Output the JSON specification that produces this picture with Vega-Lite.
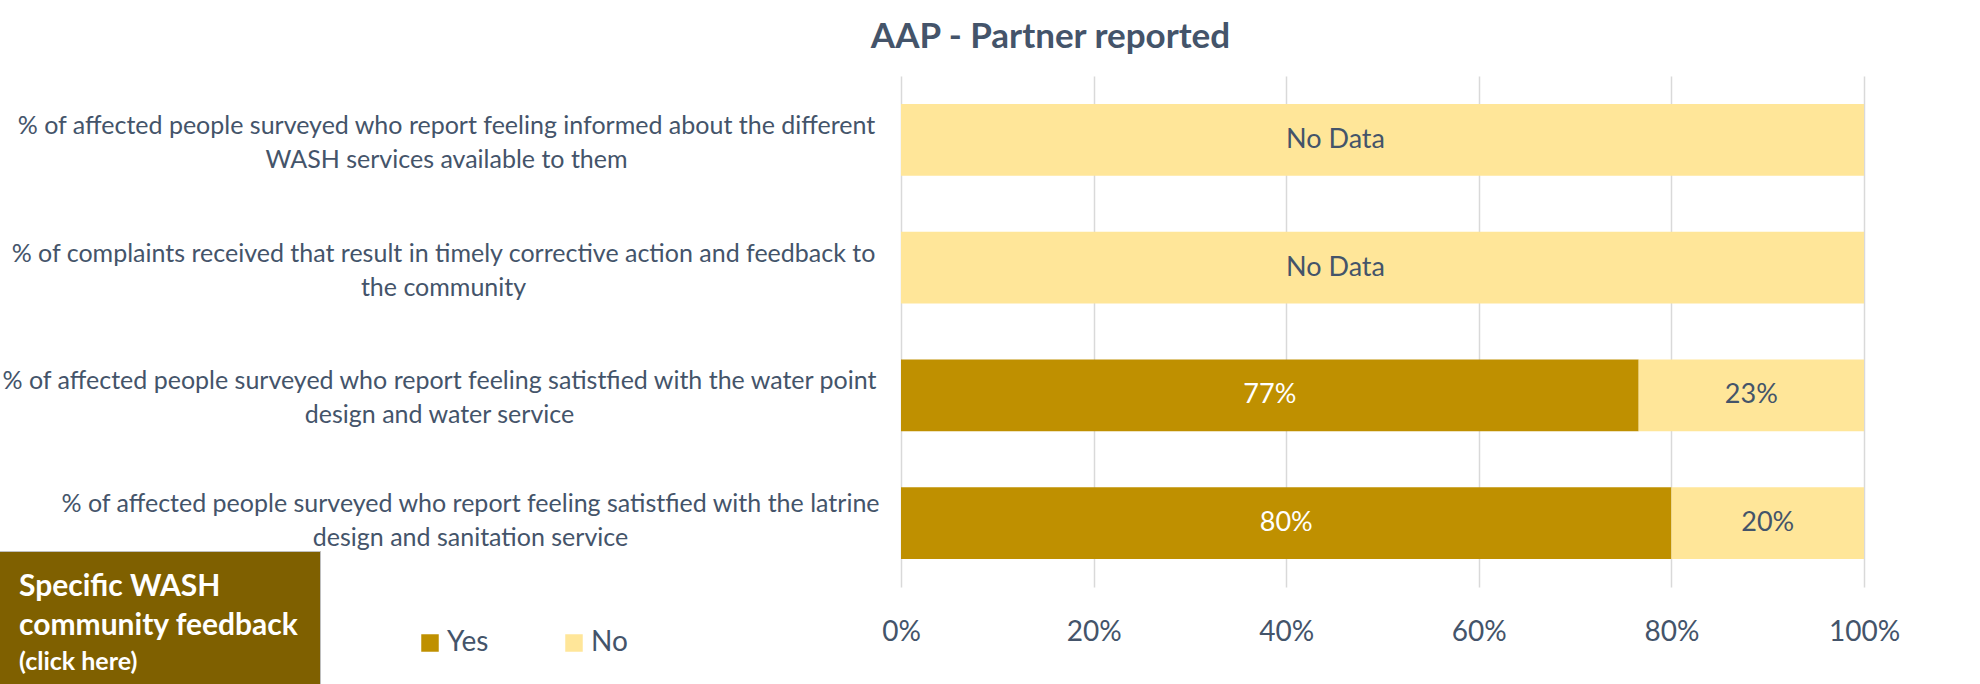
{
  "$schema": "https://vega.github.io/schema/vega-lite/v6.json",
  "width": 963,
  "height": 511,
  "autosize": {"type": "none"},
  "padding": {"left": 901, "top": 76, "right": 116, "bottom": 97},
  "background": "white",
  "config": {"font": "Lato", "view": {"stroke": null}},
  "title": {"text": "AAP - Partner reported", "font": "Lato", "fontSize": 35, "fontWeight": "bold", "color": "#44546A", "anchor": "middle", "frame": "group", "dx": -332, "offset": 21},
  "data": {"values": [
    {"indicator": "% of affected people surveyed who report feeling informed about the different\nWASH services available to them", "response": "No", "value": 1, "label": "No Data"},
    {"indicator": "% of complaints received that result in timely corrective action and feedback to\nthe community", "response": "No", "value": 1, "label": "No Data"},
    {"indicator": "% of affected people surveyed who report feeling satistfied with the water point\ndesign and water service", "response": "Yes", "value": 0.766, "label": "77%"},
    {"indicator": "% of affected people surveyed who report feeling satistfied with the water point\ndesign and water service", "response": "No", "value": 0.234, "label": "23%"},
    {"indicator": "% of affected people surveyed who report feeling satistfied with the latrine\ndesign and sanitation service", "response": "Yes", "value": 0.8, "label": "80%"},
    {"indicator": "% of affected people surveyed who report feeling satistfied with the latrine\ndesign and sanitation service", "response": "No", "value": 0.2, "label": "20%"}
  ]},
  "layer": [
    {
      "mark": {"type": "bar"},
      "encoding": {
        "y": {"field": "indicator", "type": "nominal", "sort": null,
          "scale": {"paddingInner": 0.44, "paddingOuter": 0.22},
          "axis": {"title": null, "domain": false, "ticks": false, "grid": false, "labelAlign": "center", "labelBaseline": "middle",
            "labelPadding": {"condition": [
              {"test": "indexof(datum.value, 'latrine') >= 0", "value": 431},
              {"test": "indexof(datum.value, 'water point') >= 0", "value": 462},
              {"test": "indexof(datum.value, 'complaints') >= 0", "value": 458}
            ], "value": 455},
            "labelOffset": {"condition": {"test": "indexof(datum.value, 'latrine') >= 0", "value": -19}, "value": -14},
            "labelLimit": 1200, "labelFontSize": 25, "labelLineHeight": 34, "labelColor": "#44546A", "labelFont": "Lato", "labelExpr": "split(datum.label, '\\n')"}},
        "x": {"field": "value", "type": "quantitative", "stack": "zero", "scale": {"domain": [0, 1]},
          "axis": {"title": null, "format": ".0%", "values": [0, 0.2, 0.4, 0.6, 0.8, 1], "domain": false, "ticks": false, "labelFlush": false, "labelPadding": 31, "labelFontSize": 28, "labelColor": "#44546A", "labelFont": "Lato", "gridColor": "#D9D9D9", "gridWidth": 1.5}},
        "color": {"field": "response", "type": "nominal", "scale": {"domain": ["Yes", "No"], "range": ["#BF9000", "#FFE699"]},
          "legend": {"orient": "none", "legendX": -485, "legendY": 553, "direction": "horizontal", "title": null, "symbolType": "square", "symbolSize": 306, "symbolStrokeWidth": 0, "symbolOpacity": 1, "labelFontSize": 28, "labelColor": "#44546A", "labelFont": "Lato", "labelOffset": 3, "columnPadding": 71, "padding": 0}},
        "order": {"field": "response", "type": "ordinal", "sort": "descending"}
      }
    },
    {
      "transform": [{"filter": "datum.label !== 'No Data'"}],
      "mark": {"type": "text", "fontSize": 27, "font": "Lato", "baseline": "middle"},
      "encoding": {
        "y": {"field": "indicator", "type": "nominal", "sort": null},
        "x": {"field": "value", "type": "quantitative", "stack": "zero", "bandPosition": 0.5},
        "detail": {"field": "response"},
        "order": {"field": "response", "type": "ordinal", "sort": "descending"},
        "text": {"field": "label"},
        "color": {"condition": {"test": "datum.response === 'Yes'", "value": "white"}, "value": "#44546A"}
      }
    },
    {
      "transform": [{"filter": "datum.label === 'No Data'"}],
      "mark": {"type": "text", "fontSize": 27, "font": "Lato", "baseline": "middle", "dx": -47, "color": "#44546A"},
      "encoding": {
        "y": {"field": "indicator", "type": "nominal", "sort": null},
        "x": {"field": "value", "type": "quantitative", "stack": "zero", "bandPosition": 0.5},
        "text": {"field": "label"}
      }
    },
    {
      "data": {"values": [{"link": "(click here)"}]},
      "mark": {"type": "point", "opacity": 0},
      "encoding": {
        "shape": {"field": "link", "type": "nominal",
          "legend": {"orient": "none", "legendX": -903, "legendY": 475, "title": ["Specific WASH", "community feedback"], "titleColor": "white", "titleFont": "Lato", "titleFontSize": 30, "titleFontWeight": "bold", "titleLineHeight": 39, "titlePadding": 8, "titleLimit": 500, "labelColor": "white", "labelFont": "Lato", "labelFontSize": 25, "labelFontWeight": "bold", "labelOffset": -25, "labelLimit": 400, "symbolSize": 0, "symbolOpacity": 0, "symbolStrokeWidth": 0, "fillColor": "#7F6000", "strokeColor": "#BFBFBF", "padding": 21}}
      }
    }
  ]
}
